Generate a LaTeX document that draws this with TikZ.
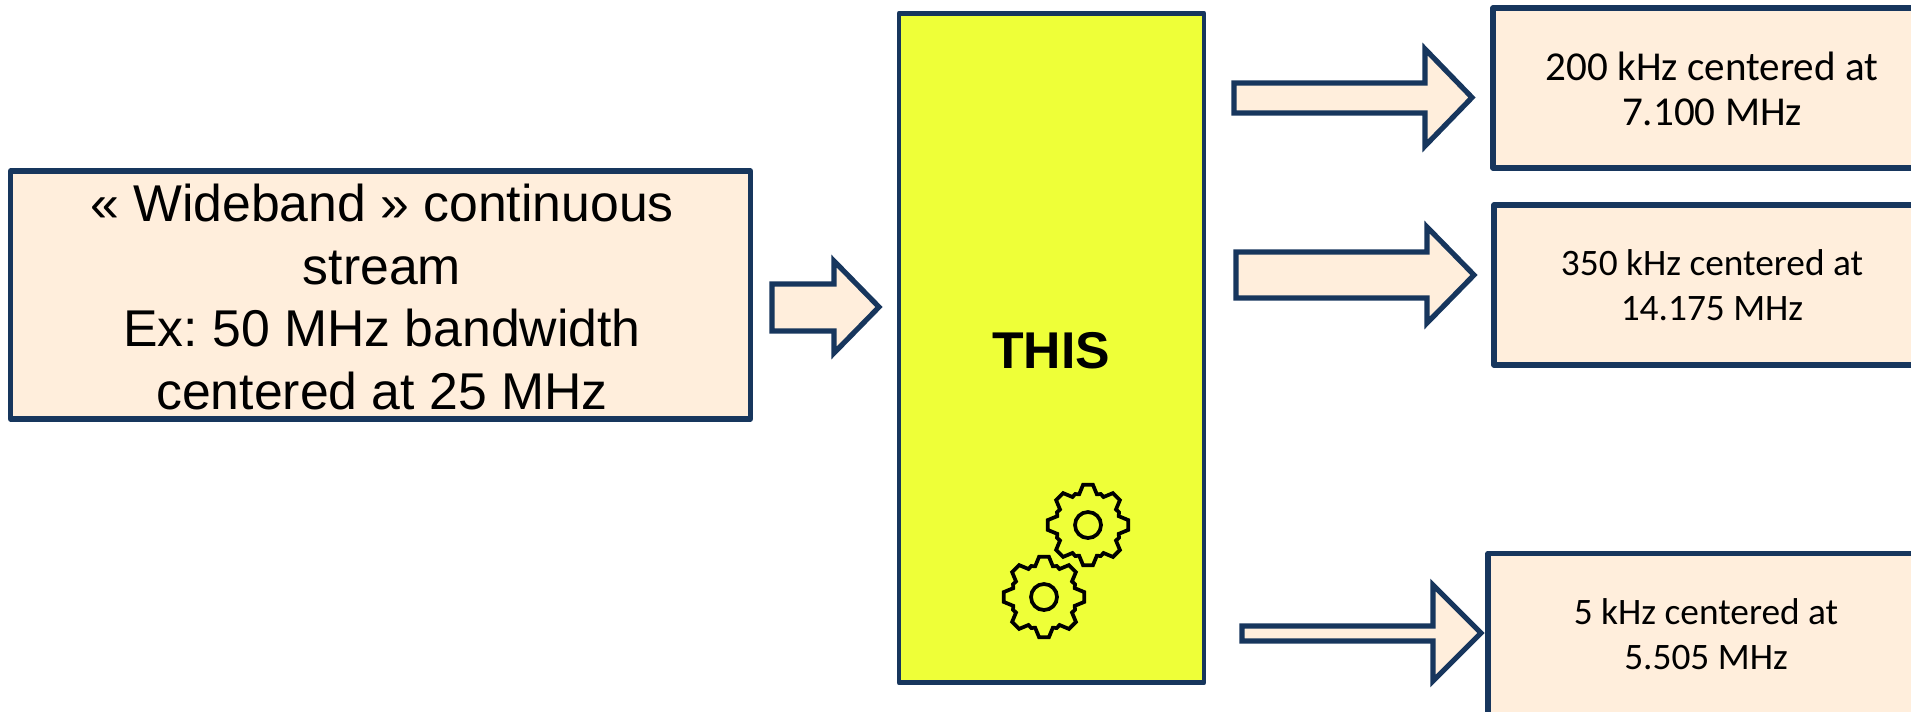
\documentclass[tikz,border=0pt]{standalone}
\usepackage{fontspec}
\setmainfont{Liberation Sans}
\newfontfamily\calibrilike{Carlito}
\definecolor{navy}{HTML}{17365D}
\definecolor{cream}{HTML}{FFEEDC}
\definecolor{lime}{HTML}{EEFF38}
\frenchspacing
\tikzset{
  panel/.style={draw=navy,fill=cream,line width=3.9pt,line join=round,rectangle,inner sep=0pt},
  block/.style={draw=navy,fill=cream,line width=3.9pt,line join=miter,miter limit=10},
  bigtext/.style={font=\fontsize{38.8pt}{47pt}\selectfont,align=center,inner sep=0pt,text=black},
  smalltexta/.style={font=\calibrilike\fontsize{30.8pt}{33.75pt}\selectfont,align=center,inner sep=0pt,text=black},
  smalltextb/.style={font=\calibrilike\fontsize{28pt}{33.75pt}\selectfont,align=center,inner sep=0pt,text=black},
  gearline/.style={draw=black,line width=2.8pt,line join=miter}
}
\newcommand{\blockarrow}[8]{% name left shafttop shaftbot headx headtop headbot tip
  \draw[block] (#2,#3) -- (#5,#3) -- (#5,#6) -- (#8,{(#6+#7)/2}) -- (#5,#7) -- (#5,#4) -- (#2,#4) -- cycle;}
\newcommand{\gearshape}[2]{%
  \begin{scope}[shift={(#1,#2)}]
    \draw[gearline] (-7:40.5) \foreach \a in {0,45,...,315}{ -- (\a-7:40.5) -- (\a+7:40.5) -- (\a+16:32) -- (\a+22.5:33.5) -- (\a+29:32)} -- cycle;
    \draw[gearline] (0,0) circle[radius=9.75pt];
  \end{scope}}
\begin{document}
\begin{tikzpicture}[x=0.75pt,y=-0.75pt]
\useasboundingbox (0,0) rectangle (1911,711);
\clip (0,0) rectangle (1911,711);
% left box
\node[panel,minimum width=555pt,minimum height=186pt] (input) at (380.5,295) {};
\node[bigtext] (inputtext) at (382,297) {« Wideband » continuous\\stream\\Ex: 50 MHz bandwidth\\centered at 25 MHz};
\blockarrow{a0}{772}{284}{331}{834}{261}{353}{879}
% centre block
\node[draw=navy,fill=lime,line width=3.6pt,line join=round,rectangle,inner sep=0pt,minimum width=228.75pt,minimum height=502pt] (this) at (1051.5,348) {};
\node[font=\fontsize{38.8pt}{47pt}\selectfont\bfseries,inner sep=0pt] (thistext) at (1051,351) {THIS};
\gearshape{1088}{525}
\gearshape{1044}{597}
% output arrows
\blockarrow{a1}{1234}{83}{113}{1425}{49}{146}{1472}
\blockarrow{a2}{1236}{252}{298}{1427}{227}{323}{1474}
\blockarrow{a3}{1242}{626}{641}{1433}{585}{681}{1481}
% output boxes
\node[panel,minimum width=328.5pt,minimum height=120pt] (out1) at (1712,88) {};
\node[smalltexta] (out1text) at (1712,89) {200 kHz centered at\\7.100 MHz};
\node[panel,minimum width=328.5pt,minimum height=120pt] (out2) at (1713,285) {};
\node[smalltextb] (out2text) at (1712,285) {350 kHz centered at\\14.175 MHz};
\node[panel,minimum width=328.5pt,minimum height=145pt] (out3) at (1707,650) {};
\node[smalltextb] (out3text) at (1706,634) {5 kHz centered at\\5.505 MHz};
\end{tikzpicture}
\end{document}
